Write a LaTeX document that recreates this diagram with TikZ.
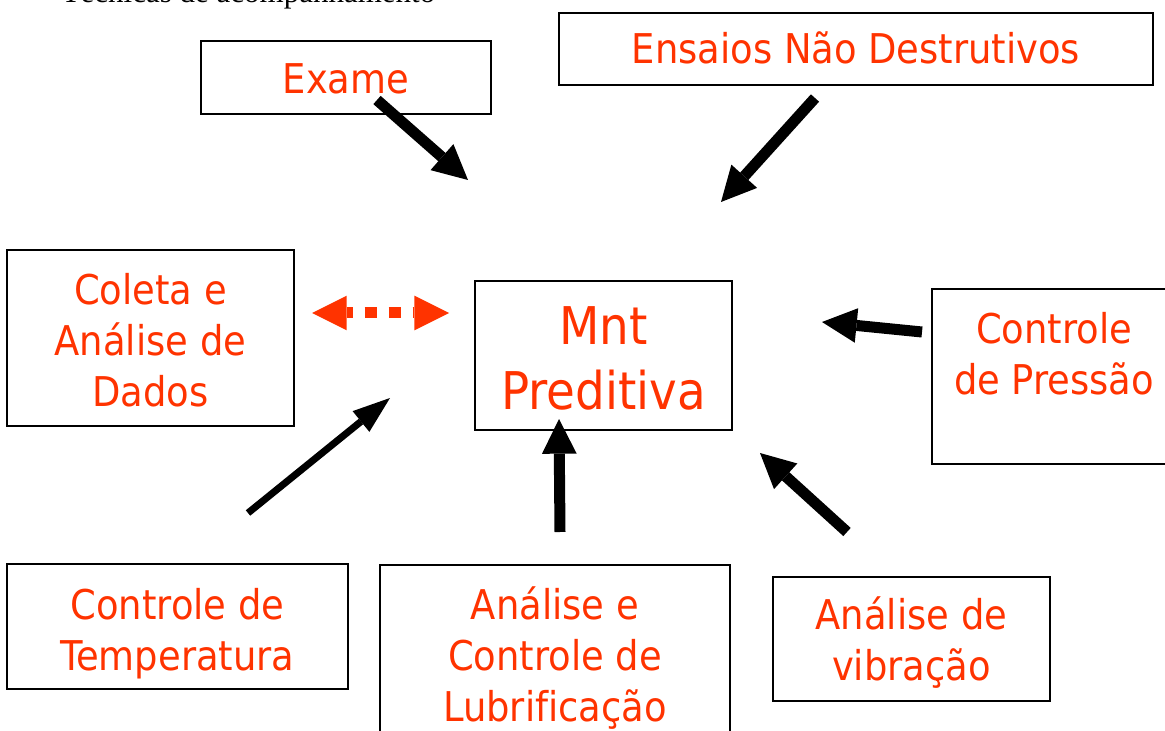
\documentclass[tikz,border=0pt]{standalone}
\usepackage{fontspec}
\setmainfont[Ligatures=NoCommon]{DejaVu Sans Condensed}
\newfontfamily\titlefont{Liberation Serif}
\usetikzlibrary{arrows.meta}
\definecolor{txtred}{RGB}{255,51,0}
\tikzset{
  box/.style={draw,line width=1.5pt,align=center,inner sep=0pt,text=txtred,
    anchor=north west,font=\fontsize{30.75}{38.25}\selectfont},
  boxsize/.style n args={3}{minimum width=#1*0.75pt,text height=#2,text depth=#3},
  fat/.style={line width=8.25pt,-{Triangle[length=26pt,width=26pt,line width=0pt]}},
}
\begin{document}
\begin{tikzpicture}[x=0.75pt,y=-0.75pt]
\useasboundingbox (0,0) rectangle (1165,731);
\clip (0,0) rectangle (1165,731);
\node[anchor=base west,font=\titlefont\fontsize{23.25}{28}\selectfont] (title) at (57,3) {Técnicas de acompanhamento};
%
\node[box,boxsize={290}{39.75pt}{15pt}] (exame) at (200,40) {Exame};
\node[box,boxsize={594}{38.25pt}{15.75pt}] (ensaios) at (558,12) {Ensaios Não Destrutivos};
\node[box,boxsize={287}{117pt}{15pt}] (coleta) at (6,249) {Coleta e\\Análise de\\Dados};
\node[box,boxsize={257}{96pt}{15.75pt},font=\fontsize{39}{48.75}\selectfont] (mnt) at (474,280) {Mnt\\Preditiva};
\node[box,boxsize={244}{78.75pt}{52.5pt}] (pressao) at (931,288) {Controle\\de Pressão};
\node[box,boxsize={341}{79.5pt}{14.25pt}] (temp) at (6,563) {Controle de\\Temperatura};
\node[box,boxsize={350}{117pt}{33.75pt}] (lubri) at (379,564) {Análise e\\Controle de\\Lubrificação};
\node[box,boxsize={277}{77.25pt}{15.75pt}] (vibra) at (772,576) {Análise de\\vibração};
%
\coordinate (exS) at (377,100); \coordinate (exT) at (468,180);
\coordinate (enS) at (815,98);  \coordinate (enT) at (721,202);
\coordinate (prS) at (922,332); \coordinate (prT) at (822,322);
\coordinate (viS) at (847,532); \coordinate (viT) at (760,453);
\coordinate (luS) at (560,532); \coordinate (luT) at (559,419);
\coordinate (teS) at (248,513); \coordinate (teT) at (390,398);
\coordinate (coL) at (312,313); \coordinate (coR) at (449,313);
%
\draw[fat] (exS) -- (exT);
\draw[fat] (enS) -- (enT);
\draw[fat] (prS) -- (prT);
\draw[fat] (viS) -- (viT);
\draw[fat] (luS) -- (luT);
\draw[line width=5.25pt,-{Triangle[length=28pt,width=20pt,line width=0pt]}] (teS) -- (teT);
\draw[txtred,line width=8.25pt,dash pattern=on 9pt off 9pt,dash phase=4.5pt,
  {Triangle[length=26pt,width=26pt,line width=0pt]}-{Triangle[length=26pt,width=26pt,line width=0pt]}] (coL) -- (coR);
%
\end{tikzpicture}
\end{document}
